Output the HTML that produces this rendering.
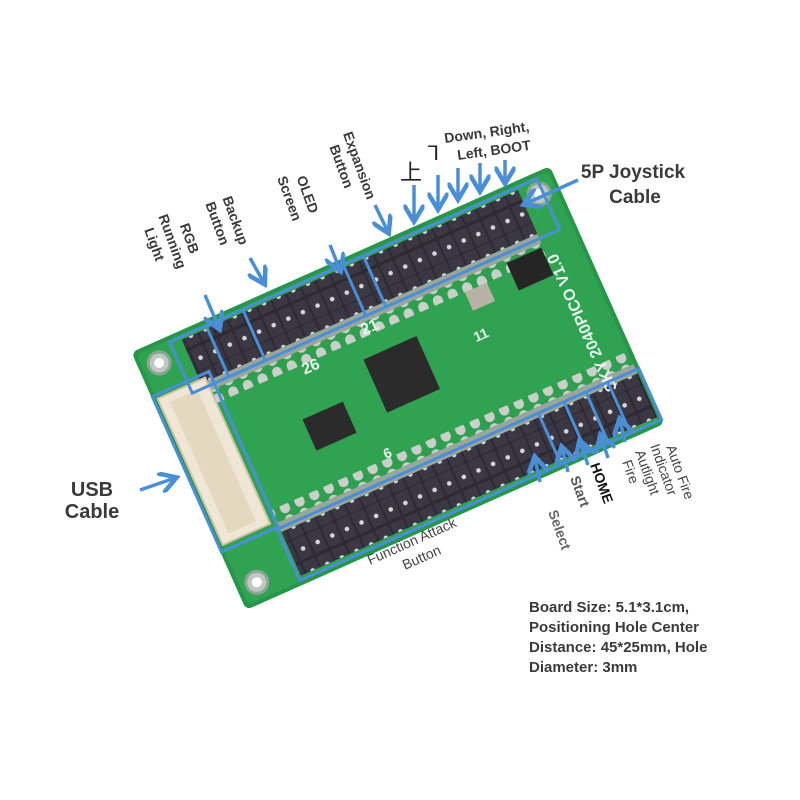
<!DOCTYPE html>
<html><head><meta charset="utf-8"><style>
html,body{margin:0;padding:0;background:#fff;}
svg{display:block;}
text{font-family:"Liberation Sans","Noto Sans CJK SC",sans-serif;font-weight:bold;fill:#3a3a3a;}
</style></head><body>
<svg width="800" height="800" viewBox="0 0 800 800" xmlns="http://www.w3.org/2000/svg">
<defs>
<marker id="ah" markerWidth="6" markerHeight="6" refX="4.5" refY="3" orient="auto" markerUnits="strokeWidth">
<path d="M0,0 L5,3 L0,6" fill="none" stroke="#4a8fd6" stroke-width="1.3"/>
</marker>
<pattern id="pins" width="16" height="48" patternUnits="userSpaceOnUse">
<rect width="16" height="48" fill="#2c2a33"/>
<rect x="1" y="0" width="14" height="22" rx="2" fill="#3b3844"/>
<rect x="1" y="25" width="14" height="22" rx="2" fill="#3b3844"/>
<circle cx="8" cy="12" r="2.3" fill="#d8d8d8"/>
<circle cx="8" cy="36" r="2.3" fill="#d8d8d8"/>
</pattern>
<pattern id="pads" width="16" height="14" patternUnits="userSpaceOnUse">
<rect width="16" height="14" fill="#2f9e4f"/>
<rect x="3" y="1" width="10" height="12" rx="5" fill="#c9cfc9"/>
</pattern>
</defs>
<rect width="800" height="800" fill="#fff"/>
<g transform="translate(398,388) rotate(-24)">
<rect x="-229" y="-141" width="458" height="282" rx="6" fill="#279648"/>
<rect x="-225" y="-137" width="450" height="274" rx="5" fill="#2fa352"/>
<g fill="#bfc9c2" stroke="#8ea596" stroke-width="3">
<circle cx="-208" cy="-120" r="11"/><circle cx="208" cy="-120" r="11"/>
<circle cx="-208" cy="120" r="11"/><circle cx="208" cy="120" r="11"/>
</g>
<g fill="#fff"><circle cx="-208" cy="-120" r="5"/><circle cx="208" cy="-120" r="5"/><circle cx="-208" cy="120" r="5"/><circle cx="208" cy="120" r="5"/></g>
<rect x="-178" y="-74" width="368" height="14" fill="url(#pads)"/>
<rect x="-165" y="60" width="390" height="14" fill="url(#pads)"/>
<rect x="-178" y="-132" width="368" height="48" fill="url(#pins)"/>
<rect x="-178" y="-84" width="368" height="10" fill="#9aa59c"/>
<rect x="-165" y="84" width="390" height="48" fill="url(#pins)"/>
<rect x="-165" y="74" width="390" height="10" fill="#9aa59c"/>
<rect x="-224" y="-88" width="52" height="160" fill="#efe6d6" stroke="#cfc2a8" stroke-width="2"/>
<rect x="-214" y="-80" width="30" height="144" fill="#e4d8c0"/>
<rect x="-20" y="-40" width="58" height="58" fill="#2b2b2b"/>
<rect x="-100" y="-10" width="44" height="34" fill="#2b2b2b"/>
<rect x="150" y="-70" width="38" height="30" fill="#252525"/>
<rect x="100" y="-60" width="24" height="20" fill="#b8b2a4"/>
<text x="-10" y="-62" font-size="16" style="fill:#e8f5ec">21</text>
<text x="-80" y="-50" font-size="16" style="fill:#e8f5ec">26</text>
<text x="90" y="-10" font-size="14" style="fill:#e8f5ec">11</text>
<text x="-40" y="60" font-size="14" style="fill:#e8f5ec">6</text>
<text x="200" y="90" font-size="16" transform="rotate(-90 200 90)" style="fill:#e8f5ec">SKY 2040PICO V1.0</text>
<g fill="none" stroke="#4a8fd6" stroke-width="3">
<rect x="-190" y="-135" width="402" height="56"/>
<line x1="-150" y1="-135" x2="-150" y2="-79"/>
<line x1="-110" y1="-135" x2="-110" y2="-79"/>
<line x1="0" y1="-135" x2="0" y2="-79"/>
<line x1="22" y1="-135" x2="22" y2="-79"/>
<rect x="-168" y="80" width="396" height="56"/>
<line x1="118" y1="80" x2="118" y2="136"/>
<line x1="146" y1="80" x2="146" y2="136"/>
<line x1="170" y1="80" x2="170" y2="136"/>
<line x1="194" y1="80" x2="194" y2="136"/>
<rect x="-228" y="-92" width="62" height="170"/>
</g>
</g>
<g stroke="#4a8fd6" stroke-width="3.5" fill="none" marker-end="url(#ah)">
<line x1="205" y1="295" x2="219" y2="328"/>
<line x1="250" y1="258" x2="264" y2="283"/>
<line x1="330" y1="245" x2="340" y2="270"/>
<line x1="375" y1="205" x2="388" y2="232"/>
<line x1="414" y1="185" x2="414" y2="220"/>
<line x1="438" y1="175" x2="438" y2="208"/>
<line x1="458" y1="168" x2="458" y2="198"/>
<line x1="480" y1="163" x2="480" y2="190"/>
<line x1="505" y1="160" x2="505" y2="182"/>
<line x1="578" y1="180" x2="525" y2="204"/>
<line x1="140" y1="490" x2="175" y2="478"/>
<line x1="540" y1="482" x2="535" y2="458"/>
<line x1="568" y1="472" x2="562" y2="448"/>
<line x1="588" y1="465" x2="580" y2="442"/>
<line x1="608" y1="458" x2="601" y2="436"/>
<line x1="625" y1="442" x2="620" y2="420"/>
</g>
<g font-size="14">
<text transform="translate(185,240) rotate(70)" text-anchor="middle">RGB</text>
<text transform="translate(168,243) rotate(70)" text-anchor="middle">Running</text>
<text transform="translate(150,246) rotate(70)" text-anchor="middle">Light</text>
<text transform="translate(231,222) rotate(70)" text-anchor="middle">Backup</text>
<text transform="translate(213,225) rotate(70)" text-anchor="middle">Button</text>
<text transform="translate(303,196) rotate(70)" text-anchor="middle">OLED</text>
<text transform="translate(285,200) rotate(70)" text-anchor="middle">Screen</text>
<text transform="translate(355,167) rotate(70)" text-anchor="middle">Expansion</text>
<text transform="translate(337,168) rotate(70)" text-anchor="middle">Button</text>
<text x="445" y="143" transform="rotate(-8 445 143)">Down, Right,</text>
<text x="458" y="160" transform="rotate(-8 458 160)">Left, BOOT</text>
<text transform="translate(548,512) rotate(70)" style="fill:#666">Select</text>
<text transform="translate(570,478) rotate(70)" style="fill:#555">Start</text>
<text transform="translate(590,465) rotate(70)" style="fill:#111">HOME</text>
<text transform="translate(622,462) rotate(70)" style="font-weight:normal;fill:#444">Fire</text>
<text transform="translate(635,452) rotate(70)" style="font-weight:normal;fill:#444">Autlight</text>
<text transform="translate(650,446) rotate(70)" style="font-weight:normal;fill:#444">Indicator</text>
<text transform="translate(666,447) rotate(70)" style="font-weight:normal;fill:#444">Auto Fire</text>
<text transform="translate(370,565) rotate(-24)" style="font-weight:normal;fill:#444">Function Attack</text>
<text transform="translate(405,570) rotate(-24)" style="font-weight:normal;fill:#444">Button</text>
</g>
<text x="400" y="180" font-size="22" style="font-weight:normal;fill:#222">上</text>
<text x="428" y="160" font-size="20" style="font-weight:normal;fill:#222">⅂</text>
<text x="633" y="178" font-size="19" text-anchor="middle">5P Joystick</text>
<text x="635" y="203" font-size="19" text-anchor="middle">Cable</text>
<text x="92" y="496" font-size="20" text-anchor="middle">USB</text>
<text x="92" y="518" font-size="20" text-anchor="middle">Cable</text>
<g font-size="15">
<text x="529" y="612">Board Size: 5.1*3.1cm,</text>
<text x="529" y="632">Positioning Hole Center</text>
<text x="529" y="652">Distance: 45*25mm, Hole</text>
<text x="529" y="672">Diameter: 3mm</text>
</g>
</svg>
</body></html>
